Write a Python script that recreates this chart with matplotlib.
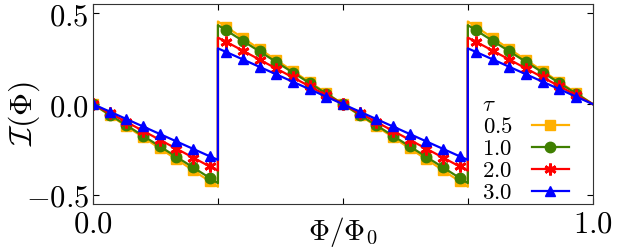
import matplotlib
matplotlib.use('Agg')
import matplotlib.pyplot as plt
import numpy as np

plt.rcParams['mathtext.fontset'] = 'cm'
plt.rcParams['font.family'] = 'DejaVu Serif'

# flux grid where the markers sit (k/30, k = 0..29)
phi = np.arange(30) / 30.0
taus = ['0.5', '1.0', '2.0', '3.0']

# current read at the marker points
I_05 = [0.000, -0.061, -0.121, -0.182, -0.243, -0.303, -0.364, -0.425,
        0.425, 0.364, 0.303, 0.243, 0.182, 0.121, 0.061, 0.000,
        -0.061, -0.121, -0.182, -0.243, -0.303, -0.364, -0.425,
        0.425, 0.364, 0.303, 0.243, 0.182, 0.121, 0.061]
I_10 = [0.000, -0.058, -0.116, -0.174, -0.232, -0.290, -0.348, -0.406,
        0.406, 0.348, 0.290, 0.232, 0.174, 0.116, 0.058, 0.000,
        -0.058, -0.116, -0.174, -0.232, -0.290, -0.348, -0.406,
        0.406, 0.348, 0.290, 0.232, 0.174, 0.116, 0.058]
I_20 = [0.000, -0.049, -0.098, -0.147, -0.196, -0.245, -0.294, -0.343,
        0.343, 0.294, 0.245, 0.196, 0.147, 0.098, 0.049, 0.000,
        -0.049, -0.098, -0.147, -0.196, -0.245, -0.294, -0.343,
        0.343, 0.294, 0.245, 0.196, 0.147, 0.098, 0.049]
I_30 = [0.000, -0.041, -0.082, -0.123, -0.164, -0.205, -0.246, -0.287,
        0.287, 0.246, 0.205, 0.164, 0.123, 0.082, 0.041, 0.000,
        -0.041, -0.082, -0.123, -0.164, -0.205, -0.246, -0.287,
        0.287, 0.246, 0.205, 0.164, 0.123, 0.082, 0.041]
# value just before / after the jump at Phi = 1/4 and 3/4
jump = [0.455, 0.435, 0.366, 0.307]

series = [I_05, I_10, I_20, I_30]
colors = ['#FFB000', '#3F7F00', '#FF0000', '#0000FF']
markers = ['s', 'o', (6, 2, 0), '^']
msizes = [7.5, 7.5, 8.5, 7.5]


def with_jumps(vals, j):
    # insert the discontinuities at 0.25, 0.75 and the end point at 1
    x = list(phi[:8]) + [0.25, 0.25] + list(phi[8:23]) + [0.75, 0.75] + list(phi[23:]) + [1.0]
    y = list(vals[:8]) + [-j, j] + list(vals[8:23]) + [-j, j] + list(vals[23:]) + [0.0]
    mk = list(range(8)) + list(range(10, 25)) + list(range(27, 34))
    return x, y, mk


fig = plt.figure(figsize=(6.24, 2.5), dpi=100)
ax = fig.add_axes([0.149, 0.184, 0.801, 0.799])

for vals, j, c, m, ms, t in zip(series, jump, colors, markers, msizes, taus):
    x, y, mk = with_jumps(vals, j)
    ax.plot(x, y, color=c, lw=1.6, marker=m, ms=ms, mew=2 if m == (6, 2, 0) else 1,
            markevery=mk, label='$' + t + '$')

ax.set_xlim(0, 1)
ax.set_ylim(-0.55, 0.55)
ax.set_xticks([0, 0.25, 0.5, 0.75, 1.0])
ax.set_xticklabels(['$0.0$', '', '', '', '$1.0$'])
ax.set_yticks([-0.5, 0.0, 0.5])
ax.set_yticklabels(['$-0.5$', '$0.0$', '$0.5$'])
ax.tick_params(direction='in', top=True, right=True, length=4, labelsize=22, pad=3)
for s in ax.spines.values():
    s.set_linewidth(0.8)
    s.set_color('#333333')

ax.set_xlabel(r'$\Phi/\Phi_0$', fontsize=21)
ax.set_ylabel(r'$\mathcal{I}(\Phi)$', fontsize=23)
ax.xaxis.set_label_coords(0.5, -0.055)
ax.yaxis.set_label_coords(-0.102, 0.455)

leg = ax.legend(title=r'$\tau$', loc='lower right', frameon=False, markerfirst=False,
                fontsize=16.5, title_fontsize=16.5, handlelength=1.6, handletextpad=0.85,
                labelspacing=0.0, borderaxespad=0.0, borderpad=0.0, alignment='left',
                bbox_to_anchor=(0.952, 0.0))

fig.savefig('out.png', dpi=100)
